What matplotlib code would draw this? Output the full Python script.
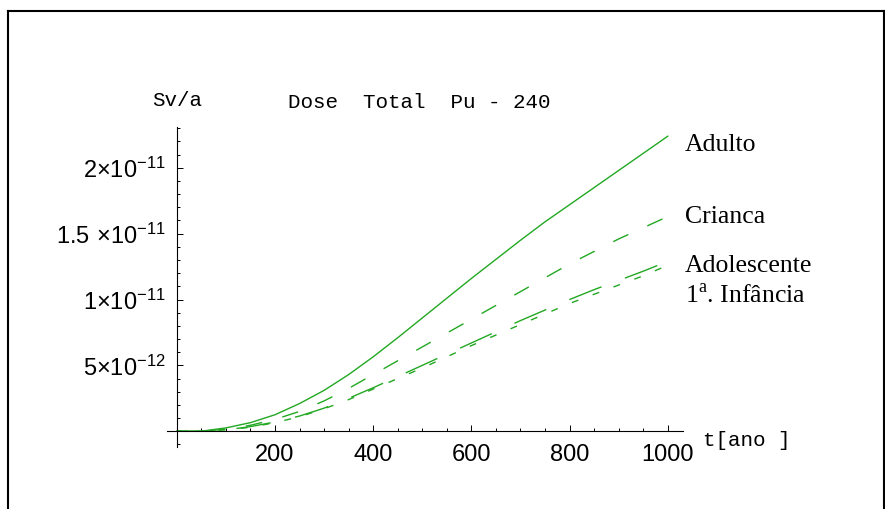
import numpy as np
import matplotlib
matplotlib.use("Agg")
import matplotlib.pyplot as plt
from matplotlib.ticker import MultipleLocator, FixedLocator, FuncFormatter
from matplotlib.lines import Line2D

plt.rcParams['mathtext.fontset'] = 'custom'
plt.rcParams['mathtext.rm'] = 'Liberation Serif'
plt.rcParams['mathtext.sf'] = 'Liberation Sans'

# anos
t = [0, 50, 100, 150, 200, 250, 300, 350, 400, 450, 500,
     550, 600, 650, 700, 750, 800, 850, 900, 950, 1000]

# dose em unidades de 1e-12 Sv/a
adulto = [0, 0, 0.25, 0.65, 1.25, 2.1, 3.1, 4.3, 5.65, 7.1, 8.6,
          10.1, 11.6, 13.05, 14.5, 15.9, 17.2, 18.5, 19.8, 21.1, 22.4]
crianca = [0, 0, 0.15, 0.45, 0.9, 1.5, 2.3, 3.25, 4.3, 5.35, 6.4,
           7.45, 8.5, 9.55, 10.6, 11.65, 12.7, 13.65, 14.6, 15.45, 16.3]
adolescente = [0, 0, 0.1, 0.35, 0.7, 1.15, 1.75, 2.5, 3.3, 4.15, 5.0,
               5.85, 6.7, 7.55, 8.4, 9.2, 10.0, 10.75, 11.45, 12.15, 12.9]
infancia = [0, 0, 0.1, 0.3, 0.65, 1.1, 1.7, 2.4, 3.2, 4.0, 4.8,
            5.65, 6.5, 7.3, 8.1, 8.9, 9.7, 10.4, 11.1, 11.8, 12.6]

ytick_vals = [5e-12, 1e-11, 1.5e-11, 2e-11]
ytick_text = [r"$\mathsf{5{\times}10^{-12}}$", r"$\mathsf{1{\times}10^{-11}}$",
              r"$\mathsf{1.5\ {\times}10^{-11}}$", r"$\mathsf{2{\times}10^{-11}}$"]

labels = ["Adulto", "Crianca", "Adolescente", r"1$^{\mathrm{a}}$. Infância"]
label_y = [151, 223, 272, 303]  # baseline, pixels from top

W, H = 885, 509
fig = plt.figure(figsize=(W / 100, H / 100), dpi=100)
ax = fig.add_axes([167 / W, 1 - 447 / H, (683 - 167) / W, (447 - 127) / H])

green = '#22a822'
sc = 1e-12
ax.plot(t, np.array(adulto) * sc, color=green, lw=1.0)
ax.plot(t, np.array(crianca) * sc, color=green, lw=1.0, ls=(4, (12, 15)))
ax.plot(t, np.array(adolescente) * sc, color=green, lw=1.0, ls=(0, (25, 18)))
ax.plot(t, np.array(infancia) * sc, color=green, lw=1.0, ls=(2, (5, 11)))

ax.set_xlim(-20, 1031)
ax.set_ylim(-1.2e-12, 2.31e-11)

for s in ['top', 'right']:
    ax.spines[s].set_visible(False)
ax.spines['left'].set_position(('data', 0))
ax.spines['bottom'].set_position(('data', 0))
ax.spines['left'].set_linewidth(0.8)
ax.spines['bottom'].set_linewidth(0.8)

ax.xaxis.set_major_locator(FixedLocator([200, 400, 600, 800, 1000]))
ax.xaxis.set_minor_locator(MultipleLocator(50))
ax.yaxis.set_major_locator(FixedLocator(ytick_vals))
ax.yaxis.set_minor_locator(MultipleLocator(1e-12))
ax.yaxis.set_major_formatter(FuncFormatter(
    lambda v, p: ytick_text[ytick_vals.index(min(ytick_vals, key=lambda a: abs(a - v)))]))

ax.tick_params(which='both', direction='in', width=0.7, colors='black')
ax.tick_params(which='major', length=4.5)
ax.tick_params(which='minor', length=2.5)
ax.tick_params(axis='x', pad=9, labelsize=17)
ax.tick_params(axis='y', pad=8, labelsize=17)
for lab in ax.get_xticklabels():
    lab.set_fontfamily('Liberation Sans')
ax.yaxis.get_offset_text().set_visible(False)

# textos
mono = 'Liberation Mono'
fig.text(177 / W, 1 - 100 / H, "Sv/a", family=mono, fontsize=15,
         ha='center', va='center')
fig.text(419 / W, 1 - 103 / H, "Dose  Total  Pu - 240", family=mono,
         fontsize=15, ha='center', va='center')
fig.text(703 / W, 1 - 440 / H, "t[ano ]", family=mono, fontsize=15,
         ha='left', va='center')
for lab, yb in zip(labels, label_y):
    fig.text(685 / W, 1 - yb / H, lab, family='Liberation Serif',
             fontsize=18.5, ha='left', va='baseline')

# moldura
kw = dict(color='black', lw=1.5, transform=fig.transFigure)
fig.add_artist(Line2D([8 / W, 8 / W], [0, 1 - 11 / H], **kw))
fig.add_artist(Line2D([8 / W, 883.5 / W], [1 - 11 / H, 1 - 11 / H], **kw))
fig.add_artist(Line2D([883.5 / W, 883.5 / W], [0, 1 - 11 / H], **kw))

fig.savefig("out.png", dpi=100)
